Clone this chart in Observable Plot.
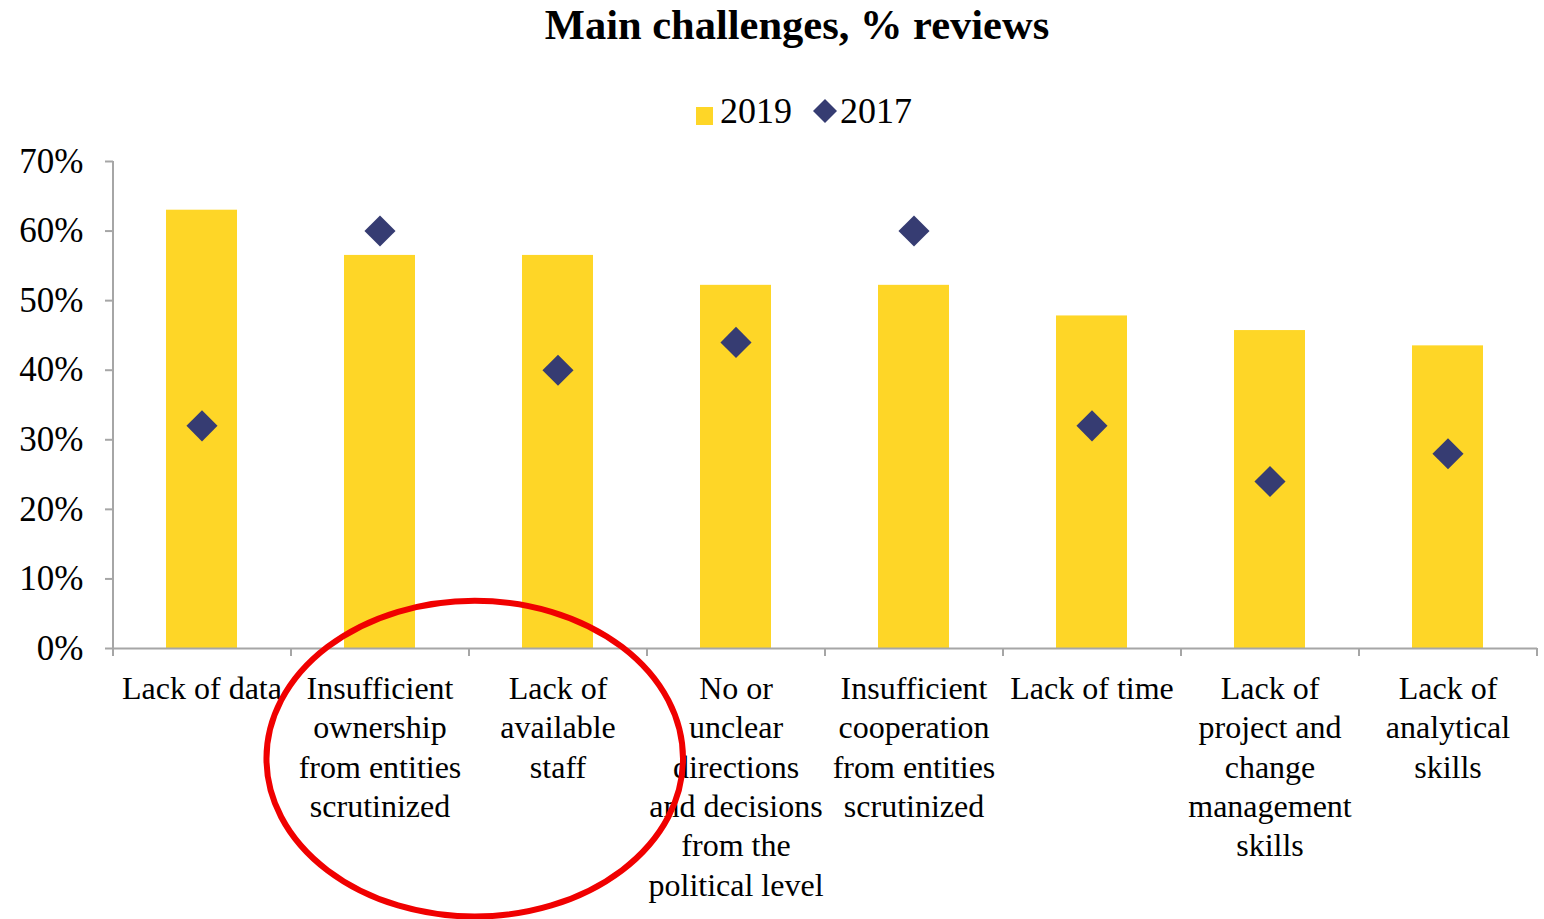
<!DOCTYPE html>
<html>
<head>
<meta charset="utf-8">
<script src="https://cdn.jsdelivr.net/npm/d3@7"></script>
<script src="https://cdn.jsdelivr.net/npm/@observablehq/plot@0.6"></script>
<style>
  html, body { margin: 0; padding: 0; background: #fff; }
  body { font-family: "Liberation Serif", "Times New Roman", serif; color: #000; width: 1544px; }
  #title { height: 62px; box-sizing: border-box; padding-left: 50px; text-align: center;
           font-weight: bold; font-size: 42.5px; line-height: 50px; }
  #legend { height: 70px; box-sizing: border-box; padding-top: 31px; padding-left: 64px; text-align: center;
            font-size: 36px; line-height: 36px; white-space: nowrap; }
  .sw { display: inline-block; vertical-align: baseline; }
  #chart svg { display: block; overflow: visible; }
</style>
</head>
<body>
<div id="title"></div>
<div id="legend"></div>
<div id="chart"></div>
<script>
// ---- data ----
const titleText = "Main challenges, % reviews";
const categories = [
  "Lack of data",
  "Insufficient ownership from entities scrutinized",
  "Lack of available staff",
  "No or unclear directions and decisions from the political level",
  "Insufficient cooperation from entities scrutinized",
  "Lack of time",
  "Lack of project and change management skills",
  "Lack of analytical skills"
];
const categoryLabels = [
  "Lack of data",
  "Insufficient\nownership\nfrom entities\nscrutinized",
  "Lack of\navailable\nstaff",
  "No or\nunclear\ndirections\nand decisions\nfrom the\npolitical level",
  "Insufficient\ncooperation\nfrom entities\nscrutinized",
  "Lack of time",
  "Lack of\nproject and\nchange\nmanagement\nskills",
  "Lack of\nanalytical\nskills"
];
const values2019 = [63.0, 56.5, 56.5, 52.2, 52.2, 47.8, 45.7, 43.5];
const values2017 = [32, 60, 40, 44, 60, 32, 24, 28];
const seriesNames = ["2019", "2017"];
const yTicks = [0, 10, 20, 30, 40, 50, 60, 70];
// annotation: red ellipse around two highlighted category labels
const highlighted = [categories[1], categories[2]];
const ellipseCenterValue = -15.9;    // in y-scale units (%), below the axis
const ellipseHalfHeightValue = 22.7; // in y-scale units
const ellipseHalfWidthSteps = 1.17;  // in band steps
const ellipseCenterOffsetSteps = 0.035; // shift right of the band boundary, in steps

// ---- style ----
const YELLOW = "#FED627";
const NAVY = "#363C72";
const GRAY = "#A6A6A6";
const RED = "#F00000";

const rows = categories.map((c, i) => ({category: c, v2019: values2019[i], v2017: values2017[i]}));

document.getElementById("title").textContent = titleText;

// legend (HTML)
const legend = document.getElementById("legend");
legend.innerHTML =
  `<span class="sw" style="width:17px;height:18px;background:${YELLOW};margin-right:7px;vertical-align:-2px"></span>` +
  `<span>${seriesNames[0]}</span>` +
  `<svg class="sw" width="26" height="26" viewBox="-13 -13 26 26" style="margin-left:20px;margin-right:2px;vertical-align:-1px"><path d="M0,-12L12,0L0,12L-12,0Z" fill="${NAVY}"/></svg>` +
  `<span>${seriesNames[1]}</span>`;

// ---- plot ----
const W = 1544, H = 787, mL = 113, mR = 7, mT = 29, mB = 271;
const pIn = 0.6, pOut = 0.3;
const step = (W - mL - mR) / (categories.length - pIn + 2 * pOut);
const tickLen = 1.15; // x-axis boundary tick length in % units

const plot = Plot.plot({
  width: W, height: H,
  marginLeft: mL, marginRight: mR, marginTop: mT, marginBottom: mB,
  style: {fontFamily: '"Liberation Serif", "Times New Roman", serif', fontSize: "32px", color: "#000", background: "#fff", overflow: "visible"},
  x: {domain: categories, paddingInner: pIn, paddingOuter: pOut, label: null},
  y: {domain: [0, 70], label: null},
  marks: [
    Plot.barY(rows, {x: "category", y: "v2019", fill: YELLOW}),
    Plot.ruleY([0], {stroke: GRAY, strokeWidth: 2}),
    Plot.ruleX([categories[0]], {x: d => d, y1: 0, y2: 70, dx: -step / 2, stroke: GRAY, strokeWidth: 2}),
    Plot.ruleX(categories, {x: d => d, y1: 0, y2: -tickLen, dx: -step / 2, stroke: GRAY, strokeWidth: 2}),
    Plot.ruleX([categories[categories.length - 1]], {x: d => d, y1: 0, y2: -tickLen, dx: step / 2, stroke: GRAY, strokeWidth: 2}),
    Plot.dot(rows, {x: "category", y: "v2017", symbol: "diamond2", r: 14, fill: NAVY}),
    Plot.axisY({ticks: yTicks, tickFormat: d => d + "%", tickSize: 8, tickPadding: 22, stroke: GRAY, strokeWidth: 2, fontSize: 35, fill: "#000"}),
    Plot.axisX({tickSize: 0, tickPadding: 22, tickFormat: d => categoryLabels[categories.indexOf(d)], lineHeight: 1.234, fontSize: 32, fill: "#000"})
  ]
});
document.getElementById("chart").appendChild(plot);

// annotation ellipse, placed through the plot's scales
const sx = plot.scale("x"), sy = plot.scale("y");
const cx = (sx.apply(highlighted[0]) + sx.bandwidth + sx.apply(highlighted[1])) / 2 + ellipseCenterOffsetSteps * step;
const cy = sy.apply(ellipseCenterValue);
const ry = sy.apply(0) - sy.apply(ellipseHalfHeightValue);
d3.select(plot).append("ellipse")
  .attr("cx", cx).attr("cy", cy)
  .attr("rx", ellipseHalfWidthSteps * step).attr("ry", ry)
  .attr("fill", "none").attr("stroke", RED).attr("stroke-width", 6);
</script>
</body>
</html>
